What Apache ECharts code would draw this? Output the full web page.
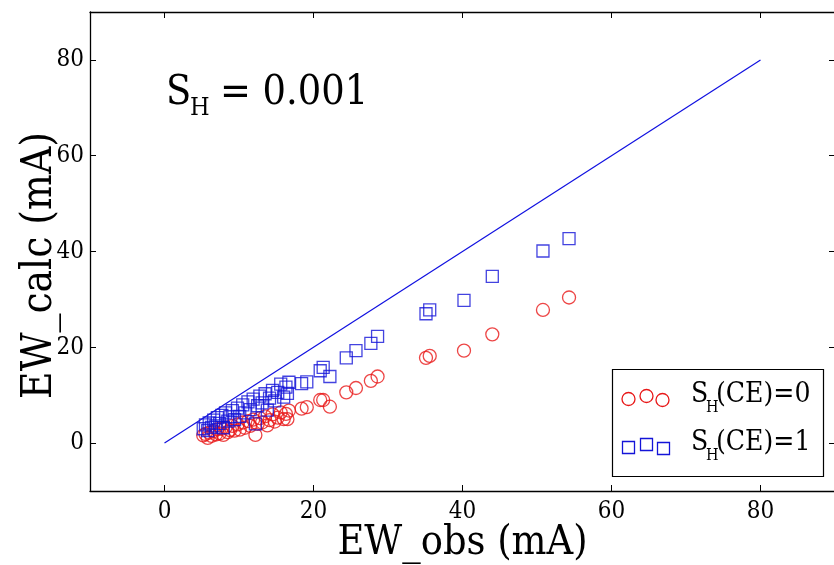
<!DOCTYPE html>
<html>
<head>
<meta charset="utf-8">
<script src="https://cdn.jsdelivr.net/npm/echarts@6/dist/echarts.min.js"></script>
<style>
html,body{margin:0;padding:0;background:#fff;}
#c{width:834px;height:565px;}
</style>
</head>
<body>
<div id="c"></div>
<script>
// ---- data ----
var ewObs = [54.3, 50.8, 44.0, 40.2, 35.6, 35.1, 28.6, 27.7, 25.7, 24.4, 22.2, 21.3, 20.9, 19.1, 18.4, 16.7, 16.5,
  5.2, 5.5, 5.8, 6.0, 6.3, 6.6, 6.9, 7.1, 7.4, 7.7, 7.9, 8.2, 8.5, 8.8, 9.1, 9.4, 9.8, 10.1, 10.5, 10.8,
  11.2, 11.5, 11.9, 12.2, 12.5, 12.8, 13.1, 13.5, 13.8, 14.1, 14.5, 14.8, 15.2, 15.6, 16.0, 16.3];
var ewCalcCE1 = [42.7, 40.1, 34.8, 29.8, 27.8, 27.0, 22.3, 20.8, 19.3, 17.8, 13.9, 15.8, 15.1, 12.8, 12.4, 12.7, 10.4,
  3.0, 3.8, 2.6, 4.2, 3.3, 4.8, 3.6, 5.3, 4.1, 5.8, 3.2, 6.3, 4.6, 5.5, 6.8, 4.9, 7.3, 5.6, 8.0, 6.3,
  8.6, 7.0, 9.2, 4.0, 7.8, 9.8, 8.4, 10.3, 6.9, 9.4, 11.0, 8.8, 10.6, 12.3, 9.6, 11.7];
var ewCalcCE0 = [30.4, 27.8, 22.7, 19.3, 18.2, 17.8, 13.9, 13.0, 11.5, 10.6, 7.6, 9.0, 9.0, 7.5, 7.2, 6.8, 5.0,
  1.6, 1.9, 1.1, 2.2, 1.5, 2.5, 1.8, 2.9, 2.0, 3.0, 1.7, 3.3, 2.3, 2.7, 3.6, 2.6, 3.9, 2.8, 4.3, 3.2,
  4.6, 3.6, 4.9, 1.7, 4.0, 5.2, 4.3, 5.6, 3.7, 4.8, 6.0, 4.5, 5.3, 6.4, 5.0, 6.1];
var lineX = [0, 80];
var lineY = [0, 80];
var tickValues = [0, 20, 40, 60, 80];
var xName = 'EW_obs (mA)';
var yName = 'EW_calc (mA)';
var seriesNames = ['S_H(CE)=0', 'S_H(CE)=1'];

// ---- build ----
var FONT = "'DejaVu Serif Condensed', 'DejaVu Serif', serif";
function pairs(xs, ys) { return xs.map(function (x, i) { return [x, ys[i]]; }); }

var chart = echarts.init(document.getElementById('c'), null, {renderer: 'canvas'});
var axisCommon = {
  type: 'value', min: -10, max: 90,
  splitLine: {show: false},
  axisLine: {show: true, onZero: false, lineStyle: {color: '#000', width: 1.3}},
  axisTick: {show: true, inside: true, length: 6, customValues: tickValues, lineStyle: {color: '#000', width: 1}},
};
function mk(extra) { return Object.assign({}, JSON.parse(JSON.stringify(axisCommon)), extra); }

var option = {
  animation: false,
  backgroundColor: '#fff',
  grid: {left: 90, top: 12, width: 745, height: 479, containLabel: false, outerBoundsMode: 'none'},
  xAxis: [
    mk({position: 'bottom', name: xName, nameLocation: 'middle', nameGap: 32, nameMoveOverlap: false,
      nameTextStyle: {fontFamily: FONT, fontSize: 41, color: '#000'},
      axisLabel: {show: true, customValues: tickValues, margin: 9, fontFamily: FONT, fontSize: 24, color: '#000'}}),
    mk({position: 'top', axisLabel: {show: false}})
  ],
  yAxis: [
    mk({position: 'left', name: yName, nameLocation: 'middle', nameGap: 29, nameMoveOverlap: false,
      nameTextStyle: {fontFamily: FONT, fontSize: 42, color: '#000', padding: [0, 28, 0, 0]},
      axisLabel: {show: true, customValues: tickValues, margin: 6, fontFamily: FONT, fontSize: 24, color: '#000'}}),
    mk({position: 'right', axisLabel: {show: false}})
  ],
  series: [
    {type: 'line', data: pairs(lineX, lineY), symbol: 'none', lineStyle: {color: '#1010e0', width: 1.2}, z: 1},
    {type: 'scatter', name: seriesNames[0], data: pairs(ewObs, ewCalcCE0), symbol: 'circle', symbolSize: 13,
      itemStyle: {color: 'rgba(0,0,0,0)', borderColor: '#e81818', borderWidth: 1.3}, z: 2},
    {type: 'scatter', name: seriesNames[1], data: pairs(ewObs, ewCalcCE1), symbol: 'rect', symbolSize: 12,
      itemStyle: {color: 'rgba(0,0,0,0)', borderColor: '#1414d8', borderWidth: 1.3}, z: 3}
  ],
  graphic: [
    // title S_H = 0.001
    {type: 'text', left: 166, top: 73, style: {text: 'S', font: '41px ' + FONT, fill: '#000'}},
    {type: 'text', left: 190, top: 96, style: {text: 'H', font: '25px ' + FONT, fill: '#000'}},
    {type: 'text', left: 220, top: 73, style: {text: '= 0.001', font: '41px ' + FONT, fill: '#000'}},
    // legend box
    {type: 'rect', shape: {x: 612.5, y: 369.5, width: 211, height: 107}, style: {fill: '#fff', stroke: '#000', lineWidth: 1.2}, z: 10},
    {type: 'circle', shape: {cx: 628.5, cy: 399, r: 6.5}, style: {fill: 'none', stroke: '#e81818', lineWidth: 1.3}, z: 11},
    {type: 'circle', shape: {cx: 646.5, cy: 396, r: 6.5}, style: {fill: 'none', stroke: '#e81818', lineWidth: 1.3}, z: 11},
    {type: 'circle', shape: {cx: 662.5, cy: 400, r: 6.5}, style: {fill: 'none', stroke: '#e81818', lineWidth: 1.3}, z: 11},
    {type: 'rect', shape: {x: 622.5, y: 441.5, width: 12, height: 12}, style: {fill: 'none', stroke: '#1414d8', lineWidth: 1.3}, z: 11},
    {type: 'rect', shape: {x: 640.5, y: 438.5, width: 12, height: 12}, style: {fill: 'none', stroke: '#1414d8', lineWidth: 1.3}, z: 11},
    {type: 'rect', shape: {x: 657.5, y: 442.5, width: 12, height: 12}, style: {fill: 'none', stroke: '#1414d8', lineWidth: 1.3}, z: 11},
    {type: 'text', left: 691, top: 381, style: {text: 'S', font: '28px ' + FONT, fill: '#000'}, z: 11},
    {type: 'text', left: 706, top: 400, style: {text: 'H', font: '16px ' + FONT, fill: '#000'}, z: 11},
    {type: 'text', left: 716, top: 381, style: {text: '(CE)=0', font: '28px ' + FONT, fill: '#000'}, z: 11},
    {type: 'text', left: 691, top: 429, style: {text: 'S', font: '28px ' + FONT, fill: '#000'}, z: 11},
    {type: 'text', left: 706, top: 448, style: {text: 'H', font: '16px ' + FONT, fill: '#000'}, z: 11},
    {type: 'text', left: 716, top: 429, style: {text: '(CE)=1', font: '28px ' + FONT, fill: '#000'}, z: 11}
  ]
};
chart.setOption(option);
</script>
</body>
</html>
